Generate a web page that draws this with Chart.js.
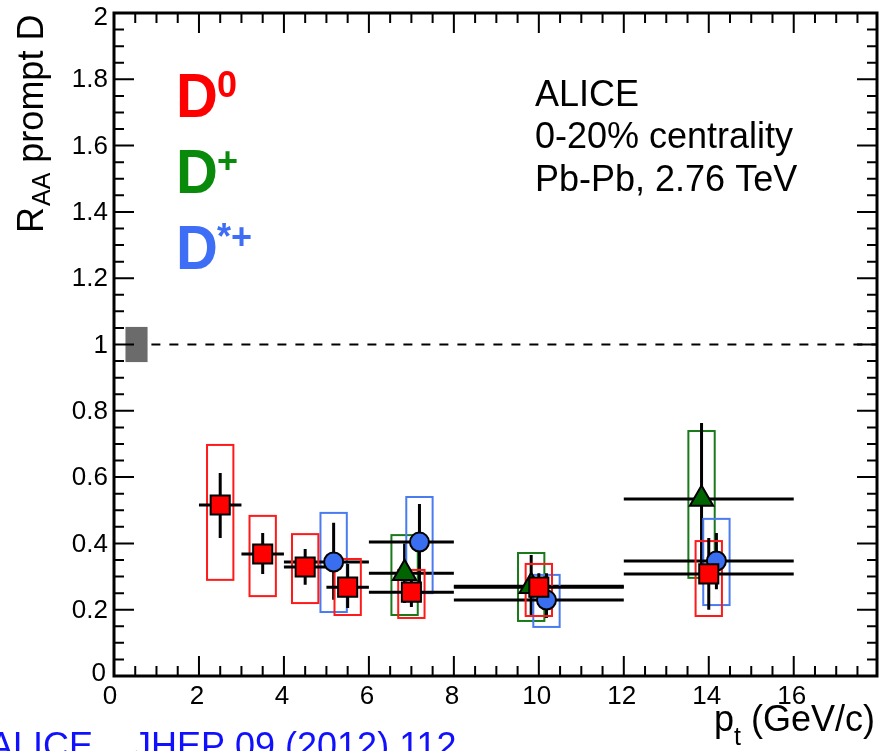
<!DOCTYPE html>
<html>
<head>
<meta charset="utf-8">
<script src="https://cdn.jsdelivr.net/npm/chart.js@4.4.0/dist/chart.umd.min.js"></script>
<style>
  html, body { margin: 0; padding: 0; background: #fff; }
  #wrap { width: 879px; height: 751px; position: relative; }
</style>
</head>
<body>
<div id="wrap"><canvas id="raa"></canvas></div>
<script>
// D0 : pt bins, R_AA, stat and syst ranges
const d0Pt = [2.5, 3.5, 4.5, 5.5, 7.0, 10.0, 14.0];
const d0BinLo = [2, 3, 4, 5, 6, 8, 12];
const d0BinHi = [3, 4, 5, 6, 8, 12, 16];
const d0Raa = [0.516, 0.368, 0.329, 0.268, 0.253, 0.268, 0.308];
const d0StatLo = [0.416, 0.308, 0.275, 0.205, 0.208, 0.214, 0.2];
const d0StatHi = [0.612, 0.431, 0.383, 0.338, 0.29, 0.31, 0.416];
const d0SysLo = [0.29, 0.241, 0.22, 0.184, 0.175, 0.181, 0.181];
const d0SysHi = [0.697, 0.483, 0.428, 0.353, 0.32, 0.338, 0.407];

// D+
const dplusPt = [6.84, 9.82, 13.83];
const dplusBinLo = [6, 8, 12];
const dplusBinHi = [8, 12, 16];
const dplusRaa = [0.31, 0.271, 0.534];
const dplusStatLo = [0.22, 0.184, 0.3];
const dplusStatHi = [0.4, 0.365, 0.763];
const dplusSysLo = [0.184, 0.166, 0.296];
const dplusSysHi = [0.425, 0.371, 0.739];

// D*+
const dstarPt = [5.17, 7.19, 10.18, 14.18];
const dstarBinLo = [4, 6, 8, 12];
const dstarBinHi = [6, 8, 12, 16];
const dstarRaa = [0.344, 0.404, 0.229, 0.347];
const dstarStatLo = [0.23, 0.28, 0.175, 0.262];
const dstarStatHi = [0.462, 0.519, 0.31, 0.431];
const dstarSysLo = [0.193, 0.25, 0.148, 0.214];
const dstarSysHi = [0.492, 0.54, 0.305, 0.474];

// normalisation uncertainty around R_AA = 1
const normLo = 0.947;
const normHi = 1.053;

const xTicks = [0, 2, 4, 6, 8, 10, 12, 14, 16];
const xTickLabels = ["0", "2", "4", "6", "8", "10", "12", "14", "16"];
const yTicks = [0, 0.2, 0.4, 0.6, 0.8, 1, 1.2, 1.4, 1.6, 1.8, 2];
const yTickLabels = ["0", "0.2", "0.4", "0.6", "0.8", "1", "1.2", "1.4", "1.6", "1.8", "2"];

const FONT = "'Liberation Sans', Arial, Helvetica, sans-serif";
const RED = "#ff0000";
const GREEN = "#0a8a0a";
const BLUE = "#3d6ef5";

const species = [
  { pt: dplusPt, lo: dplusBinLo, hi: dplusBinHi, raa: dplusRaa, sLo: dplusStatLo, sHi: dplusStatHi, yLo: dplusSysLo, yHi: dplusSysHi, box: "#1a7a1a" },
  { pt: dstarPt, lo: dstarBinLo, hi: dstarBinHi, raa: dstarRaa, sLo: dstarStatLo, sHi: dstarStatHi, yLo: dstarSysLo, yHi: dstarSysHi, box: "#4a7cf0" },
  { pt: d0Pt, lo: d0BinLo, hi: d0BinHi, raa: d0Raa, sLo: d0StatLo, sHi: d0StatHi, yLo: d0SysLo, yHi: d0SysHi, box: "#ff1a1a" },
];

function toPoints(pt, raa) {
  return pt.map((x, i) => ({ x, y: raa[i] }));
}

const rootStyle = {
  id: "rootStyle",
  beforeDatasetsDraw(chart) {
    const { ctx, scales: { x, y } } = chart;
    ctx.save();
    // grey normalisation box
    ctx.fillStyle = "#6b6b6b";
    const bx0 = x.getPixelForValue(0.27);
    const bx1 = x.getPixelForValue(0.79);
    ctx.fillRect(bx0, y.getPixelForValue(normHi), bx1 - bx0, y.getPixelForValue(normLo) - y.getPixelForValue(normHi));
    // dashed line at 1
    ctx.strokeStyle = "#000";
    ctx.lineWidth = 2;
    ctx.setLineDash([9, 9]);
    ctx.beginPath();
    ctx.moveTo(x.getPixelForValue(0.88), y.getPixelForValue(1));
    ctx.lineTo(x.right, y.getPixelForValue(1));
    ctx.stroke();
    ctx.setLineDash([]);

    species.forEach((s) => {
      // systematic boxes
      ctx.strokeStyle = s.box;
      ctx.lineWidth = 2;
      s.pt.forEach((p, i) => {
        const l = x.getPixelForValue(p - 0.31);
        const r = x.getPixelForValue(p + 0.31);
        const t = y.getPixelForValue(s.yHi[i]);
        const b = y.getPixelForValue(s.yLo[i]);
        ctx.strokeRect(l, t, r - l, b - t);
      });
      // stat errors and bin widths
      ctx.strokeStyle = "#000";
      ctx.lineWidth = 3;
      s.pt.forEach((p, i) => {
        const px = x.getPixelForValue(p);
        const py = y.getPixelForValue(s.raa[i]);
        ctx.beginPath();
        ctx.moveTo(x.getPixelForValue(s.lo[i]), py);
        ctx.lineTo(x.getPixelForValue(s.hi[i]), py);
        ctx.moveTo(px, y.getPixelForValue(s.sHi[i]));
        ctx.lineTo(px, y.getPixelForValue(s.sLo[i]));
        ctx.stroke();
      });
    });
    ctx.restore();
  },
  afterDraw(chart) {
    const { ctx, scales: { x, y }, chartArea: a } = chart;
    ctx.save();
    // frame
    ctx.strokeStyle = "#000";
    ctx.lineWidth = 3;
    ctx.strokeRect(a.left, a.top, a.right - a.left, a.bottom - a.top);
    // ticks (inside, on all four sides)
    ctx.lineWidth = 2;
    ctx.beginPath();
    for (let v = 0; v <= 17.9; v += 0.5) {
      const px = x.getPixelForValue(v);
      const len = Math.abs(v % 2) < 1e-6 ? 20 : 10;
      ctx.moveTo(px, a.bottom); ctx.lineTo(px, a.bottom - len);
      ctx.moveTo(px, a.top); ctx.lineTo(px, a.top + len);
    }
    for (let k = 0; k <= 40; k++) {
      const v = k * 0.05;
      const py = y.getPixelForValue(v);
      const len = k % 4 === 0 ? 20 : 10;
      ctx.moveTo(a.left, py); ctx.lineTo(a.left + len, py);
      ctx.moveTo(a.right, py); ctx.lineTo(a.right - len, py);
    }
    ctx.stroke();

    // tick labels
    ctx.fillStyle = "#000";
    ctx.font = `26px ${FONT}`;
    ctx.textAlign = "center";
    ctx.textBaseline = "alphabetic";
    xTicks.forEach((v, i) => {
      const px = v === 0 ? 110 : x.getPixelForValue(v) - 2;
      ctx.fillText(xTickLabels[i], px, 704);
    });
    ctx.textAlign = "right";
    ctx.textBaseline = "middle";
    yTicks.forEach((v, i) => {
      let py = y.getPixelForValue(v) + 1;
      let px = 108;
      if (v === 2) py = 18;
      if (v === 0) { py = 674; px = 106; }
      ctx.fillText(yTickLabels[i], px, py);
    });

    // axis titles
    ctx.textBaseline = "alphabetic";
    ctx.textAlign = "left";
    ctx.save();
    ctx.translate(43, 233);
    ctx.rotate(-Math.PI / 2);
    ctx.font = `36px ${FONT}`;
    ctx.fillText("R", 0, 0);
    const rw = ctx.measureText("R").width;
    ctx.font = `25px ${FONT}`;
    ctx.fillText("AA", rw + 1, 7);
    const aw = ctx.measureText("AA").width;
    ctx.font = `36px ${FONT}`;
    ctx.fillText(" prompt D", rw + aw + 1, 0);
    ctx.restore();

    ctx.font = `36px ${FONT}`;
    const gev = "(GeV/c)";
    const gx = 875 - ctx.measureText(gev).width;
    ctx.fillText(gev, gx, 731);
    ctx.font = `25px ${FONT}`;
    const tw = ctx.measureText("t").width;
    ctx.fillText("t", gx - 10 - tw, 745);
    ctx.font = `36px ${FONT}`;
    const pw = ctx.measureText("p").width;
    ctx.fillText("p", gx - 10 - tw - pw, 731);

    // experiment label
    ctx.font = `36px ${FONT}`;
    ctx.fillText("ALICE", 535, 106);
    ctx.fillText("0-20% centrality", 535, 148);
    ctx.fillText("Pb-Pb, 2.76 TeV", 535, 191);

    // species legend
    const legend = [
      { main: "D", sup: "0", color: RED, base: 117 },
      { main: "D", sup: "+", color: GREEN, base: 193 },
      { main: "D", sup: "*+", color: BLUE, base: 269 },
    ];
    legend.forEach((l) => {
      ctx.fillStyle = l.color;
      ctx.save();
      ctx.translate(176, l.base);
      ctx.scale(1, 1.1);
      ctx.font = `bold 58px ${FONT}`;
      ctx.fillText(l.main, 0, 0);
      ctx.restore();
      ctx.font = `bold 36px ${FONT}`;
      ctx.fillText(l.sup, 217, l.base - 20);
    });

    // reference
    ctx.fillStyle = "#1010ff";
    ctx.font = `36px ${FONT}`;
    ctx.fillText("ALICE,", -11, 758);
    ctx.fillText("JHEP 09 (2012) 112", 133, 758);
    ctx.restore();
  },
};

new Chart(document.getElementById("raa"), {
  type: "scatter",
  data: {
    datasets: [
      {
        label: "D0",
        data: toPoints(d0Pt, d0Raa),
        pointStyle: "rect",
        pointRadius: 13.5,
        backgroundColor: "#ff0000",
        borderColor: "#000",
        borderWidth: 2,
      },
      {
        label: "D*+",
        data: toPoints(dstarPt, dstarRaa),
        pointStyle: "circle",
        pointRadius: 9.5,
        backgroundColor: "#3a6ef0",
        borderColor: "#000",
        borderWidth: 2,
      },
      {
        label: "D+",
        data: toPoints(dplusPt, dplusRaa),
        pointStyle: "triangle",
        pointRadius: 13.5,
        backgroundColor: "#006400",
        borderColor: "#000",
        borderWidth: 2,
      },
    ],
  },
  options: {
    responsive: true,
    maintainAspectRatio: false,
    devicePixelRatio: 1,
    animation: false,
    events: [],
    layout: { autoPadding: false, padding: { left: 114, right: 2, top: 13, bottom: 75 } },
    plugins: { legend: { display: false }, tooltip: { enabled: false } },
    scales: {
      x: { type: "linear", min: 0, max: 17.96, display: false },
      y: { type: "linear", min: 0, max: 2, display: false },
    },
  },
  plugins: [rootStyle],
});
</script>
</body>
</html>
